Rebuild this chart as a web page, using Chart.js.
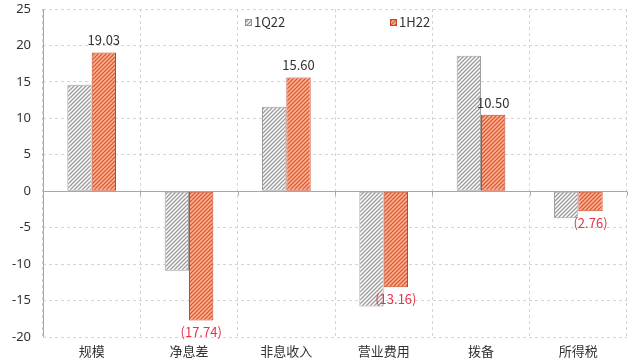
<!DOCTYPE html>
<html>
<head>
<meta charset="utf-8">
<script src="https://cdn.jsdelivr.net/npm/chart.js@4"></script>
<style>
  html, body { margin: 0; padding: 0; background: #fff; }
  #wrap { width: 634px; height: 361px; }
</style>
</head>
<body>
<div id="wrap"><canvas id="chart1"></canvas></div>
<script>
// data
var categories = ['规模', '净息差', '非息收入', '营业费用', '拨备', '所得税'];
var seriesNames = ['1Q22', '1H22'];
var q1Values = [14.6, -10.9, 11.6, -15.8, 18.6, -3.7];
var h1Values = [19.03, -17.74, 15.60, -13.16, 10.50, -2.76];
var yTicks = [25, 20, 15, 10, 5, 0, -5, -10, -15, -20];

var FONT = '"Noto Sans CJK SC", "Noto Sans", sans-serif';

function makeHatch(bg, line) {
  var c = document.createElement('canvas');
  c.width = 4; c.height = 4;
  var g = c.getContext('2d');
  g.fillStyle = bg;
  g.fillRect(0, 0, 4, 4);
  g.strokeStyle = line;
  g.lineWidth = 1.3;
  g.beginPath();
  g.moveTo(-1, 5); g.lineTo(5, -1);
  g.moveTo(-1, 1); g.lineTo(1, -1);
  g.moveTo(3, 5); g.lineTo(5, 3);
  g.stroke();
  return g.createPattern(c, 'repeat');
}

var ctx = document.getElementById('chart1').getContext('2d');
var grayHatch = makeHatch('#ffffff', '#9a9a9a');
var orangeHatch = makeHatch('#f9b89c', '#e2582e');

// solid left axis, zero line + small ticks on it
var axisLines = {
  id: 'axisLines',
  afterDatasetsDraw: function(chart) {
    var y = Math.round(chart.scales.y.getPixelForValue(0)) + 0.5;
    var a = chart.chartArea;
    var c = chart.ctx;
    c.save();
    c.strokeStyle = '#a6a6a6';
    c.lineWidth = 1;
    c.setLineDash([]);
    c.beginPath();
    c.moveTo(Math.round(a.left) + 0.5, a.top);
    c.lineTo(Math.round(a.left) + 0.5, a.bottom);
    c.moveTo(a.left, y);
    c.lineTo(a.right, y);
    var n = categories.length;
    for (var i = 1; i <= n; i++) {
      var x = Math.round(a.left + (a.right - a.left) * i / n) + 0.5;
      c.moveTo(x, y);
      c.lineTo(x, y + 4);
    }
    c.stroke();
    c.restore();
  }
};

// value labels on the 1H22 bars
var barLabels = {
  id: 'barLabels',
  afterDatasetsDraw: function(chart) {
    var meta = chart.getDatasetMeta(1);
    var c = chart.ctx;
    c.save();
    c.font = '13px ' + FONT;
    c.textAlign = 'center';
    c.textBaseline = 'middle';
    meta.data.forEach(function(bar, i) {
      var v = h1Values[i];
      if (v >= 0) {
        c.fillStyle = '#333333';
        c.fillText(v.toFixed(2), bar.x, bar.y - 12);
      } else {
        c.fillStyle = '#e8334a';
        c.fillText('(' + Math.abs(v).toFixed(2) + ')', bar.x, bar.y + 12);
      }
    });
    c.restore();
  }
};

// legend sits inside the plot
var innerLegend = {
  id: 'innerLegend',
  afterDraw: function(chart) {
    var c = chart.ctx;
    var items = [
      { x: 245, fill: grayHatch, stroke: '#909090', text: seriesNames[0] },
      { x: 390, fill: orangeHatch, stroke: '#c8452a', text: seriesNames[1] }
    ];
    c.save();
    c.font = '13px ' + FONT;
    c.textBaseline = 'middle';
    items.forEach(function(it) {
      c.fillStyle = it.fill;
      c.fillRect(it.x, 19, 7, 7);
      c.strokeStyle = it.stroke;
      c.lineWidth = 1;
      c.strokeRect(it.x + 0.5, 19.5, 6, 6);
      c.fillStyle = '#333333';
      c.fillText(it.text, it.x + 9, 22.5);
    });
    c.restore();
  }
};

var chart = new Chart(ctx, {
  type: 'bar',
  data: {
    labels: categories,
    datasets: [{
      label: seriesNames[0],
      data: q1Values,
      backgroundColor: grayHatch,
      borderColor: '#a0a0a0',
      borderWidth: 1,
      borderSkipped: false
    }, {
      label: seriesNames[1],
      data: h1Values,
      backgroundColor: orangeHatch,
      borderColor: '#c8452a',
      borderWidth: 1,
      borderSkipped: false
    }]
  },
  options: {
    responsive: true,
    maintainAspectRatio: false,
    animation: false,
    categoryPercentage: 0.5,
    barPercentage: 1.0,
    layout: { padding: { top: 9, right: 7, left: 0, bottom: 0 } },
    plugins: {
      legend: { display: false },
      tooltip: { enabled: false }
    },
    scales: {
      x: {
        grid: {
          offset: true,
          color: '#d4d4d4',
          drawTicks: false
        },
        border: { display: false, dash: [3, 3] },
        ticks: {
          color: '#333333',
          font: { family: FONT, size: 13 },
          padding: 6
        },
        afterFit: function(s) { s.height = 24; }
      },
      y: {
        min: -20,
        max: 25,
        afterBuildTicks: function(s) {
          s.ticks = yTicks.map(function(v) { return { value: v }; });
        },
        grid: {
          color: '#d4d4d4',
          drawTicks: false
        },
        border: { display: false, dash: [3, 3] },
        ticks: {
          color: '#333333',
          font: { family: 'Noto Sans, sans-serif', size: 13 },
          padding: 12
        },
        afterFit: function(s) {
          s.width = 43;
          s.paddingTop = 0;
          s.paddingBottom = 0;
        }
      }
    }
  },
  plugins: [axisLines, barLabels, innerLegend]
});
</script>
</body>
</html>
